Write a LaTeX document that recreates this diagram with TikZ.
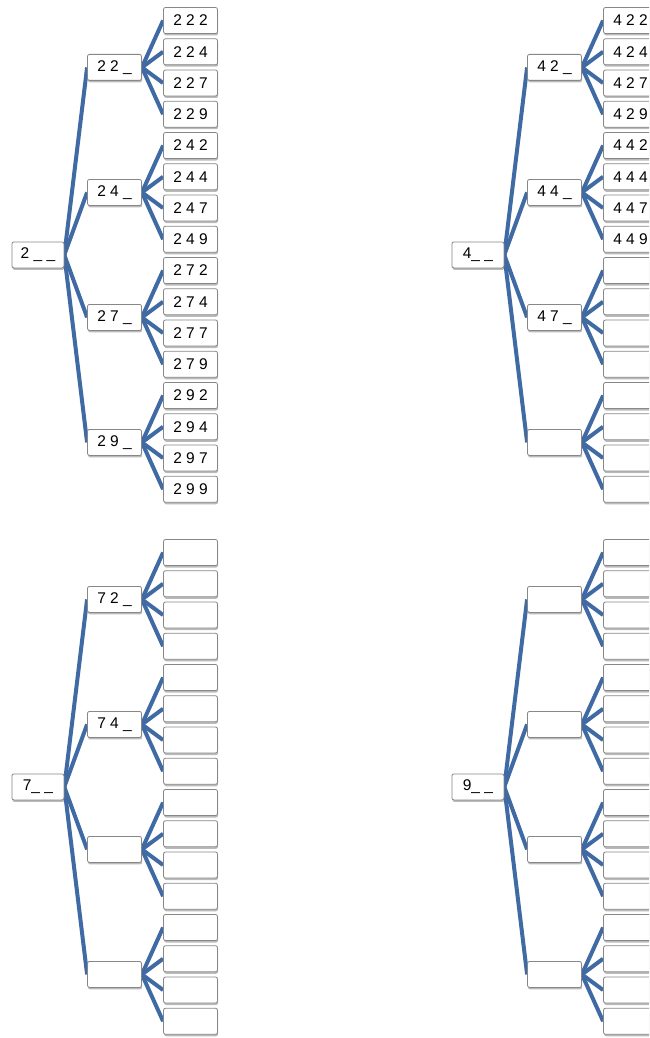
\documentclass[tikz,border=0pt]{standalone}
\usepackage{fontspec}
\setmainfont{Liberation Sans}
\usepackage{xcolor}
\usepackage{tikz}
\usetikzlibrary{shadows,backgrounds}

\definecolor{linkblue}{RGB}{64,106,164}
\definecolor{boxgray}{RGB}{135,135,135}

\begin{document}
\begin{tikzpicture}[x=1pt,y=-1pt,every node/.style={font=\fontsize{15.5}{18}\selectfont},
  box/.style={draw=boxgray,line width=0.8pt,fill=white,rounded corners=2pt,inner sep=0pt,minimum height=26pt,
    drop shadow={shadow xshift=0.6pt,shadow yshift=-2pt,opacity=0.45,fill=black!60}},
  rootbox/.style={box,minimum width=52pt},
  midbox/.style={box,minimum width=54pt},
  leafbox/.style={box,minimum width=54pt},
  link/.style={draw=linkblue,line width=4pt}]
  \useasboundingbox (0,0) rectangle (649,1038);
  \clip (0,0) rectangle (649,1038);
  % one tree per first digit: offset, root text, labelled mids, labelled leaf groups
  \foreach \t/\tx/\ty/\tlabel/\nmid/\nleaf in {2/0/0/{2 \_ \_}/4/4, 4/440/0/{4\_ \_}/3/2,
      7/0/532/{7\_ \_}/2/0, 9/440/532/{9\_ \_}/0/0} {
    \node[rootbox] (r\t) at ({\tx+37.9},{\ty+254.9}) {\tlabel};
    \foreach \m [count=\j] in {2,4,7,9} {
      \node[midbox] (m\t\m) at ({\tx+114.5},{\ty+67.4+125*(\j-1)}) {\ifnum\j>\nmid\else\t\ \m\ \_\fi};
      \begin{scope}[on background layer]
        \draw[link] (r\t.east) -- (m\t\m.west);
      \end{scope}
      \foreach \l [count=\k] in {2,4,7,9} {
        \node[leafbox] (l\t\m\l) at ({\tx+190.5},{\ty+20.5+125*(\j-1)+31.25*(\k-1)})
          {\ifnum\j>\nleaf\else\t\ \m\ \l\fi};
        \begin{scope}[on background layer]
          \draw[link] (m\t\m.east) -- (l\t\m\l.west);
        \end{scope}
      }
    }
  }
\end{tikzpicture}
\end{document}
